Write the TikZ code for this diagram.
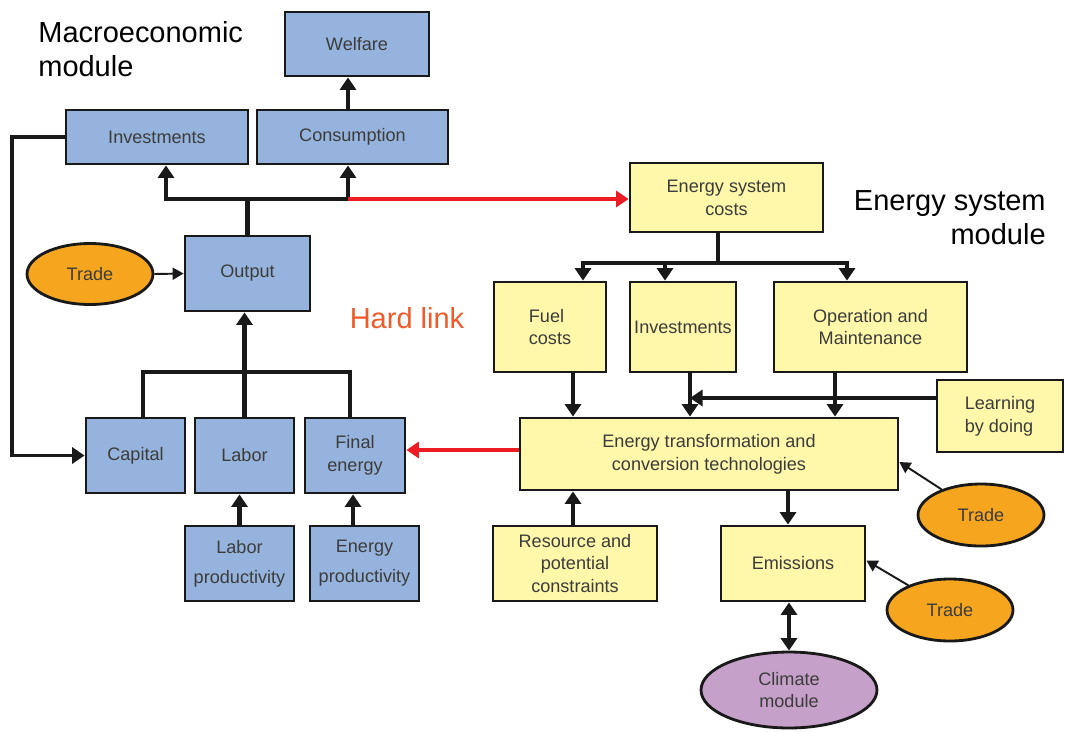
\documentclass[tikz,border=0pt]{standalone}
\usepackage{fontspec}
\setmainfont{Liberation Sans}
\usetikzlibrary{arrows.meta,shapes.geometric}
\definecolor{macroblue}{RGB}{149,179,221}
\definecolor{esyellow}{RGB}{255,247,170}
\definecolor{tradeorange}{RGB}{246,166,30}
\definecolor{climpurple}{RGB}{197,160,201}
\definecolor{textgray}{RGB}{60,60,60}
\definecolor{linkred}{RGB}{237,28,36}
\definecolor{hardorange}{RGB}{241,90,41}
\tikzset{
  box/.style={draw=black!90, line width=1.6pt, text=textgray, align=center, inner sep=0pt,
    font=\fontsize{10.3}{13}\selectfont},
  mbox/.style={box, fill=macroblue},
  ebox/.style={box, fill=esyellow},
  oval/.style={box, ellipse},
  conn/.style={line width=2.3pt, draw=black!90},
  arr/.style={conn, -{Triangle[width=0.32cm,length=0.25cm]}},
  dblarr/.style={conn, {Triangle[width=0.32cm,length=0.25cm]}-{Triangle[width=0.32cm,length=0.25cm]}},
  thinarr/.style={line width=1.1pt, draw=black!90, -{Triangle[width=0.24cm,length=0.22cm]}},
  redarr/.style={line width=2.6pt, draw=linkred, -{Triangle[width=0.32cm,length=0.25cm]}},
  title/.style={font=\fontsize{16.5}{19.5}\selectfont, inner sep=0pt}
}
\begin{document}
\begin{tikzpicture}[x=0.02cm, y=-0.02cm]
\useasboundingbox (0,0) rectangle (1065,731);
% macroeconomic module
\node[title, anchor=north west, align=left] (macrotitle) at (38,21) {Macroeconomic\\module};
\node[mbox, minimum width=2.88cm, minimum height=1.28cm] (welfare) at (357,44) {Welfare};
\node[mbox, minimum width=3.64cm, minimum height=1.08cm] (invM) at (157,137) {Investments};
\node[mbox, minimum width=3.82cm, minimum height=1.08cm] (cons) at (352.5,137) {Consumption};
\node[mbox, minimum width=2.5cm, minimum height=1.5cm] (output) at (247.5,273.5) {Output};
\node[oval, fill=tradeorange, minimum width=2.52cm, minimum height=1.22cm] (tradeM) at (90,274) {Trade};
\node[mbox, minimum width=1.98cm, minimum height=1.5cm] (capital) at (135.5,455.5) {Capital};
\node[mbox, minimum width=1.98cm, minimum height=1.5cm] (labor) at (244.5,455.5) {Labor};
\node[mbox, minimum width=2cm, minimum height=1.5cm] (final) at (355,455.5) {Final\\energy};
\node[mbox, minimum width=2.18cm, minimum height=1.5cm] (laborprod) at (239.5,563.5) {Labor\\[4pt]productivity};
\node[mbox, minimum width=2.18cm, minimum height=1.5cm] (energyprod) at (364.5,563.5) {Energy\\[4pt]productivity};
% energy system module
\node[title, anchor=north east, align=right] (estitle) at (1046,190) {Energy system\\module};
\node[title, text=hardorange] (hardlink) at (407,318) {Hard link};
\node[ebox, minimum width=3.86cm, minimum height=1.38cm] (escosts) at (726.5,197.5) {Energy system\\costs};
\node[ebox, minimum width=2.24cm, minimum height=1.8cm, align=left] (fuel) at (550,327) {Fuel\\costs};
\node[ebox, minimum width=2.12cm, minimum height=1.8cm] (invE) at (683,327) {Investments};
\node[ebox, minimum width=3.86cm, minimum height=1.8cm] (om) at (870.5,327) {Operation and\\Maintenance};
\node[ebox, minimum width=2.52cm, minimum height=1.44cm, align=left] (learning) at (1000,416) {Learning\\by doing};
\node[ebox, minimum width=7.56cm, minimum height=1.44cm] (etc) at (709,454) {Energy transformation and\\conversion technologies};
\node[oval, fill=tradeorange, minimum width=2.52cm, minimum height=1.24cm] (tradeE1) at (981,515) {Trade};
\node[ebox, minimum width=3.28cm, minimum height=1.5cm] (resource) at (575,563.5) {Resource and\\potential\\constraints};
\node[ebox, minimum width=2.88cm, minimum height=1.5cm] (emissions) at (793,563.5) {Emissions};
\node[oval, fill=tradeorange, minimum width=2.52cm, minimum height=1.24cm] (tradeE2) at (950,610) {Trade};
\node[oval, fill=climpurple, minimum width=3.52cm, minimum height=1.52cm] (climate) at (789,690) {Climate\\module};
% connectors, macro side
\coordinate (busL) at (166,199);
\coordinate (busR) at (348,199);
\coordinate (fb) at (12,0);
\coordinate (pbus) at (0,372);
\draw[arr] (cons.north -| busR) -- (busR |- welfare.south);
\draw[arr] (output.north) -- (output.north |- busL) -| (busL |- invM.south);
\draw[arr] (output.north |- busR) -- (busR) -- (busR |- cons.south);
\draw[conn, line width=2pt, -{Triangle[width=0.32cm,length=0.25cm]}] (invM.west) -- (invM.west -| fb) |- (capital.west);
\draw[thinarr] (tradeM.east) -- (output.west);
\draw[conn, line width=2pt] ([xshift=0.15cm]capital.north) -- ([xshift=0.15cm]capital.north |- pbus) -- ([xshift=-0.1cm]final.north |- pbus) -- ([xshift=-0.1cm]final.north);
\draw[arr] (labor.north) -- (labor.north |- output.south);
\draw[arr] (laborprod.north) -- (laborprod.north |- labor.south);
\draw[arr] ([xshift=-0.04cm]final.south |- energyprod.north) -- ([xshift=-0.04cm]final.south);
\draw[redarr] (busR) -- (busR -| escosts.west);
% connectors, energy side
\coordinate (esL) at (583,263);
\coordinate (esM) at (665,263);
\coordinate (esR) at (847,263);
\coordinate (fx) at (573,0);
\coordinate (ix) at (690,0);
\coordinate (ox) at (835,0);
\draw[conn] ([xshift=-0.17cm]escosts.south) -- ([xshift=-0.17cm]escosts.south |- esL);
\draw[arr] ([xshift=-0.17cm]escosts.south |- esL) -- (esL) -- (esL |- fuel.north);
\draw[arr] ([xshift=-0.17cm]escosts.south |- esR) -- (esR) -- (esR |- om.north);
\draw[arr] (esM) -- (esM |- invE.north);
\draw[arr] (fx |- fuel.south) -- (fx |- etc.north);
\draw[arr] (ix |- invE.south) -- (ix |- etc.north);
\draw[arr] (ox |- om.south) -- (ox |- etc.north);
\draw[arr] ([yshift=0.36cm]learning.west) -- ([yshift=0.36cm]learning.west -| ix);
\draw[redarr] ([yshift=0.08cm]etc.west) -- ([yshift=0.08cm]etc.west -| final.east);
\draw[thinarr] (tradeE1) -- ([yshift=-0.16cm]etc.east);
\draw[arr] (resource.north -| fx) -- (fx |- etc.south);
\draw[arr] ([xshift=-0.1cm]emissions.north |- etc.south) -- ([xshift=-0.1cm]emissions.north);
\draw[thinarr] (tradeE2) -- ([yshift=0.06cm]emissions.east);
\draw[dblarr] (climate.north |- emissions.south) -- (climate.north);
\end{tikzpicture}
\end{document}
